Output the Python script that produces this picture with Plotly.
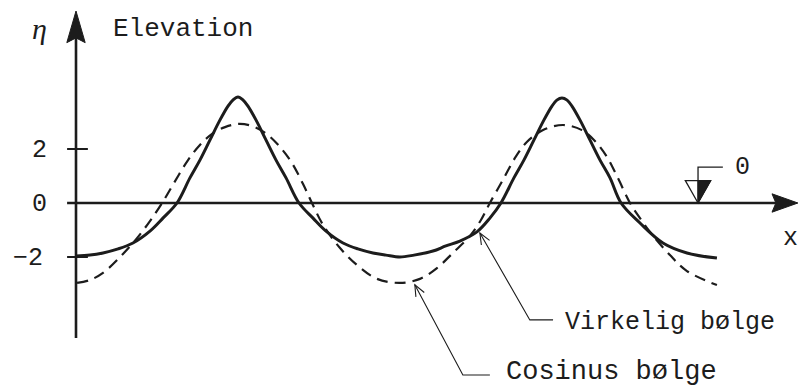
import math
import plotly.graph_objects as go

# Surface elevation profiles (x along the wave, eta = elevation; same unit on both axes)
real_x = [0.00, 0.52, 1.00, 1.56, 2.11, 2.74, 3.22, 3.74, 4.22, 4.59, 4.96, 5.33, 5.63, 5.81,
          6.00, 6.19, 6.37, 6.67, 7.04, 7.41, 7.78, 8.26, 8.78, 9.26, 9.89, 10.44, 11.00, 11.48,
          12.00, 12.52, 13.22, 13.70, 14.22, 14.85, 15.33, 15.74, 16.22, 16.59, 16.96, 17.33,
          17.63, 17.81, 18.00, 18.19, 18.37, 18.67, 19.04, 19.41, 19.78, 20.19, 20.89, 21.74,
          22.63, 23.74]
real_eta = [-1.96, -1.93, -1.85, -1.70, -1.48, -1.04, -0.56, 0.00, 0.93, 1.59, 2.33, 3.07, 3.59, 3.81,
            3.93, 3.81, 3.59, 3.07, 2.33, 1.59, 0.93, 0.00, -0.56, -1.04, -1.48, -1.70, -1.85, -1.93,
            -2.00, -1.93, -1.78, -1.59, -1.41, -1.07, -0.56, 0.00, 0.93, 1.59, 2.33, 3.07,
            3.59, 3.81, 3.89, 3.81, 3.59, 3.07, 2.33, 1.59, 0.93, 0.00, -0.74, -1.48,
            -1.85, -2.04]

cos_x = [0.04, 0.52, 1.00, 1.74, 2.26, 2.74, 3.19, 3.67, 4.15, 4.59, 5.04, 5.52, 6.07, 6.63,
         7.11, 7.56, 8.00, 8.41, 8.74, 9.15, 9.78, 10.41, 11.15, 12.00, 12.74, 13.37, 13.96,
         14.59, 15.00, 15.33, 15.81, 16.26, 16.70, 17.30, 18.04, 18.74, 19.22, 19.67, 20.07,
         20.52, 20.89, 21.26, 22.00, 22.63, 23.74]
cos_eta = [-2.96, -2.85, -2.59, -1.89, -1.30, -0.67, 0.00, 0.81, 1.59, 2.15, 2.56, 2.81, 2.93, 2.81,
           2.52, 2.07, 1.48, 0.70, 0.00, -0.81, -1.67, -2.30, -2.81, -2.96, -2.81, -2.41, -1.85,
           -1.22, -0.63, 0.00, 0.85, 1.67, 2.26, 2.70, 2.89, 2.70, 2.30, 1.70, 0.93,
           0.00, -0.56, -1.07, -1.93, -2.52, -3.04]

y_ticks = [-2, 0, 2]
y_tick_labels = ["\u22122", "0", "2"]
y_tick_label_x = [-1.78, -1.37, -1.37]

INK = "#1c1c1c"
MONO = "Liberation Mono"

X_RANGE = [-2.815, 26.78]
Y_RANGE = [-6.778, 7.519]

fig = go.Figure()

fig.add_trace(go.Scatter(x=cos_x, y=cos_eta, mode="lines", line_shape="spline",
                         line=dict(color=INK, width=2.2, dash="11px,7px"), hoverinfo="skip"))
fig.add_trace(go.Scatter(x=real_x, y=real_eta, mode="lines", line_shape="spline",
                         line=dict(color=INK, width=3), hoverinfo="skip"))

shapes = []

# axes
x_axis_left, x_axis_tip, x_head_len, head_half = -0.33, 26.74, 0.96, 0.34
y_axis_bottom, y_axis_tip, y_head_len = -5.0, 7.11, 1.17
shapes.append(dict(type="line", x0=x_axis_left, y0=0, x1=x_axis_tip - x_head_len * 0.5, y1=0,
                   line=dict(color=INK, width=2.6)))
shapes.append(dict(type="line", x0=0, y0=y_axis_bottom, x1=0, y1=y_axis_tip - y_head_len * 0.5,
                   line=dict(color=INK, width=2.6)))
shapes.append(dict(type="path",
                   path=f"M {x_axis_tip},0 L {x_axis_tip - x_head_len},{head_half} "
                        f"L {x_axis_tip - x_head_len * 0.85},0 L {x_axis_tip - x_head_len},{-head_half} Z",
                   fillcolor=INK, line=dict(color=INK, width=1)))
shapes.append(dict(type="path",
                   path=f"M 0,{y_axis_tip} L {head_half},{y_axis_tip - y_head_len} "
                        f"L 0,{y_axis_tip - y_head_len * 0.85} L {-head_half},{y_axis_tip - y_head_len} Z",
                   fillcolor=INK, line=dict(color=INK, width=1)))

# tick marks crossing the vertical axis
for t in y_ticks:
    if t != 0:
        shapes.append(dict(type="line", x0=-0.33, y0=t, x1=0.44, y1=t, line=dict(color=INK, width=2)))

# still-water level symbol
swl_x, swl_top, swl_half = 23.04, 0.83, 0.47
shapes.append(dict(type="path",
                   path=f"M {swl_x},0 L {swl_x - swl_half},{swl_top} L {swl_x + swl_half},{swl_top} Z",
                   line=dict(color=INK, width=1.3)))
shapes.append(dict(type="path",
                   path=f"M {swl_x},0 L {swl_x},{swl_top} L {swl_x + swl_half},{swl_top} Z",
                   fillcolor=INK, line=dict(color=INK, width=1)))
shapes.append(dict(type="path",
                   path=f"M {swl_x},0 L {swl_x},1.33 L 23.96,1.33",
                   line=dict(color=INK, width=1.3)))


def leader(tip, elbow, end):
    """Thin pointer line with a small open arrowhead at the tip."""
    dx, dy = elbow[0] - tip[0], elbow[1] - tip[1]
    ang = math.atan2(dy, dx)
    arm = 0.45
    a1 = (tip[0] + arm * math.cos(ang + 0.40), tip[1] + arm * math.sin(ang + 0.40))
    a2 = (tip[0] + arm * math.cos(ang - 0.40), tip[1] + arm * math.sin(ang - 0.40))
    return [
        dict(type="path", path=f"M {tip[0]},{tip[1]} L {elbow[0]},{elbow[1]} L {end[0]},{end[1]}",
             line=dict(color=INK, width=1.1)),
        dict(type="path", path=f"M {a1[0]},{a1[1]} L {tip[0]},{tip[1]} L {a2[0]},{a2[1]}",
             line=dict(color=INK, width=1.1)),
    ]


shapes += leader((14.96, -1.11), (16.81, -4.33), (17.67, -4.33))
shapes += leader((12.55, -3.03), (14.33, -6.37), (15.33, -6.37))

annotations = []


def label(text, x, y, xanchor="left", size=25, family=MONO):
    annotations.append(dict(text=text, x=x, y=y, xref="x", yref="y", showarrow=False,
                            xanchor=xanchor, yanchor="middle",
                            font=dict(family=family, size=size, color=INK)))


for t, s, lx in zip(y_ticks, y_tick_labels, y_tick_label_x):
    label(s, lx, t - 0.05, xanchor="center", size=25)

label("<i>\u03b7</i>", -1.37, 6.48, xanchor="center", size=30, family="Liberation Serif")
label("Elevation", 1.30, 6.45, size=26)
label("x", 26.48, -1.30, xanchor="center", size=25)
label("0", 24.67, 1.30, xanchor="center", size=25)
label("Virkelig b\u00f8lge", 18.05, -4.42, size=25)
label("Cosinus b\u00f8lge", 15.85, -6.27, size=27)

fig.update_layout(
    width=799, height=386, autosize=False,
    margin=dict(l=0, r=0, t=0, b=0, pad=0),
    paper_bgcolor="white", plot_bgcolor="white",
    showlegend=False,
    xaxis=dict(range=X_RANGE, visible=False, fixedrange=True),
    yaxis=dict(range=Y_RANGE, visible=False, fixedrange=True),
    shapes=shapes,
    annotations=annotations,
)

fig.write_html("out.html", config={"displayModeBar": False})
